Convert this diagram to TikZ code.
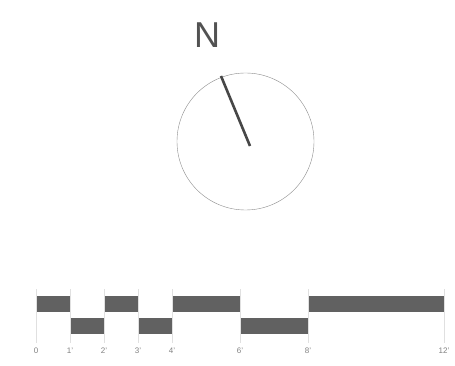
\documentclass[tikz,border=0pt]{standalone}
\usepackage{fontspec}
\setmainfont{Liberation Sans}
\usetikzlibrary{positioning}

\begin{document}
\begin{tikzpicture}[x=1pt, y=-1pt,
        bar/.style={fill=black!62, draw=none},
        tick/.style={black!12, very thin},
        lbl/.style={text=black!50, font=\fontsize{8}{8}\selectfont, inner sep=0pt},
        needle/.style={black!72, line width=2.6pt}]
      \useasboundingbox (0,0) rectangle (455,366);
      % north arrow
      \node[text=black!68, font=\fontsize{36}{36}\selectfont, inner sep=0pt] (north) at (207,35) {N};
      \node[draw=black!45, circle, minimum size=137pt, inner sep=0pt] (dial) at (245.5,141.5) {};
      \coordinate (tip) at (221,76);
      \coordinate (hub) at (250,146);
      \draw[needle] (tip) -- (hub);
      % scale bar
      \foreach \a/\b/\r in {0/1/0, 1/2/1, 2/3/0, 3/4/1, 4/6/0, 6/8/1, 8/12/0} {
        \fill[bar] (36+34*\a, 296+22*\r) rectangle (36+34*\b, 312+22*\r);
      }
      \foreach \v/\t in {0/0, 1/1', 2/2', 3/3', 4/4', 6/6', 8/8', 12/12'} {
        \draw[tick] (36+34*\v, 289) -- (36+34*\v, 343);
        \node[lbl] (l\v) at (36+34*\v, 351) {\t};
      }
    \end{tikzpicture}
\end{document}
